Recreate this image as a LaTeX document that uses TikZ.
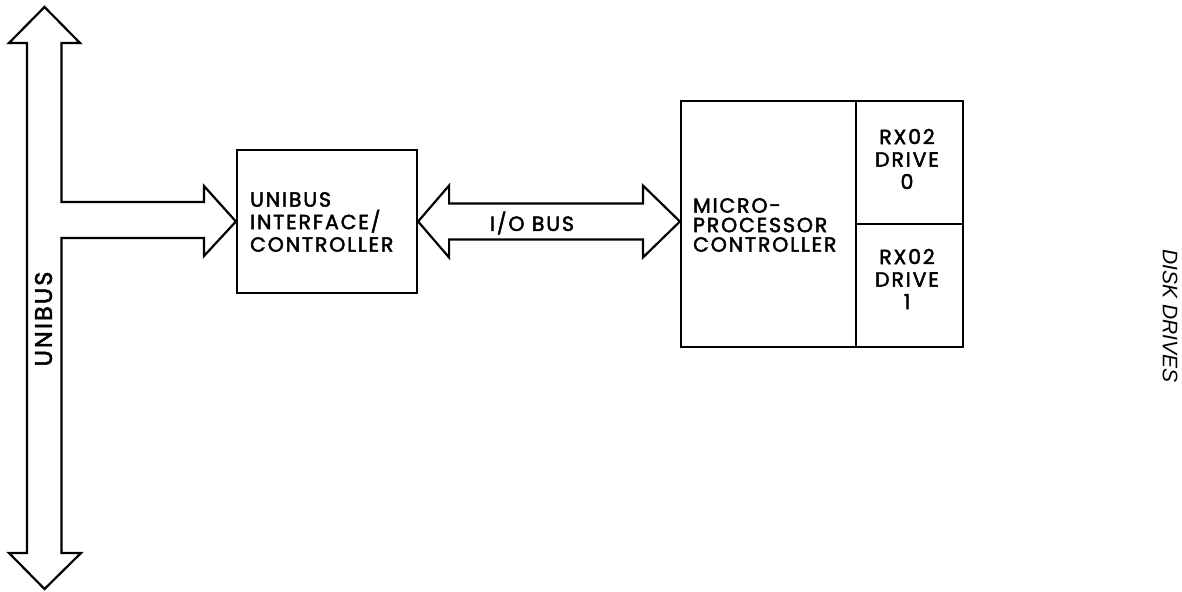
\documentclass[tikz,border=0pt]{standalone}
\usepackage{fontspec}
\newfontfamily\labfont[LetterSpace=9,FakeBold=2.2]{Poppins}
\newfontfamily\ddfont{Liberation Sans}
\usetikzlibrary{calc}
\begin{document}
\begin{tikzpicture}[x=1pt,y=-1pt,line width=2.2pt,line join=miter,
  blk/.style={draw,line width=2.2pt,inner sep=0pt},
  lbl/.style={inner sep=0pt,align=left,font=\labfont\fontsize{20.5}{22.5}\selectfont},
  lblc/.style={inner sep=0pt,align=center,font=\labfont\fontsize{20.5}{22.5}\selectfont}]
\useasboundingbox (0,0) rectangle (1182,591);
% boxes
\node[blk,minimum width=180pt,minimum height=143pt] (uic) at (327,221.5) {};
\node[blk,minimum width=175pt,minimum height=246pt] (mpc) at (768.5,224) {};
\node[blk,minimum width=107pt,minimum height=123pt] (dr0) at (909.5,162.5) {};
\node[blk,minimum width=107pt,minimum height=123pt] (dr1) at (909.5,285.5) {};
% texts
\node[lbl,anchor=west] (uict) at (249,222) {UNIBUS\\INTERFACE/\\CONTROLLER};
\node[lbl,anchor=west,font=\labfont\fontsize{20.5}{19.5}\selectfont] (mpct) at (692,225) {MICRO-\\PROCESSOR\\CONTROLLER};
\node[lblc] (dr0t) at (907,159) {RX02\\DRIVE\\0};
\node[lblc] (dr1t) at (907,279) {RX02\\DRIVE\\1};
% UNIBUS double arrow with branch
\draw (44.5,7) -- (80,43) -- (61.5,43) -- (61.5,202) -- (204,202) -- (204,186)
  -- (uic.west) -- (204,256) -- (204,238) -- (61.5,238) -- (61.5,553) -- (81,553)
  -- (44.5,589) -- (9,553) -- (27,553) -- (27,43) -- (9,43) -- cycle;
\node[inner sep=0pt,rotate=90,font=\labfont\fontsize{24}{26}\selectfont] (ubl) at (43.5,319) {UNIBUS};
% I/O bus
\coordinate (iol) at (uic.east);
\coordinate (ior) at (mpc.west |- iol);
\draw (iol) -- ++(31,-36) -- ++(0,18) -- ($(ior)+(-37,-18)$) -- ++(0,-18) -- (ior)
  -- ++(-37,36) -- ++(0,-18) -- ($(iol)+(31,18)$) -- ++(0,18) -- cycle;
\node[lbl] (iob) at (532,223) {I/O BUS};
% disk drives
\node[inner sep=0pt,rotate=-90,font=\ddfont\itshape\fontsize{21}{24}\selectfont] (dd) at (1170,316) {DISK DRIVES};
\end{tikzpicture}
\end{document}
